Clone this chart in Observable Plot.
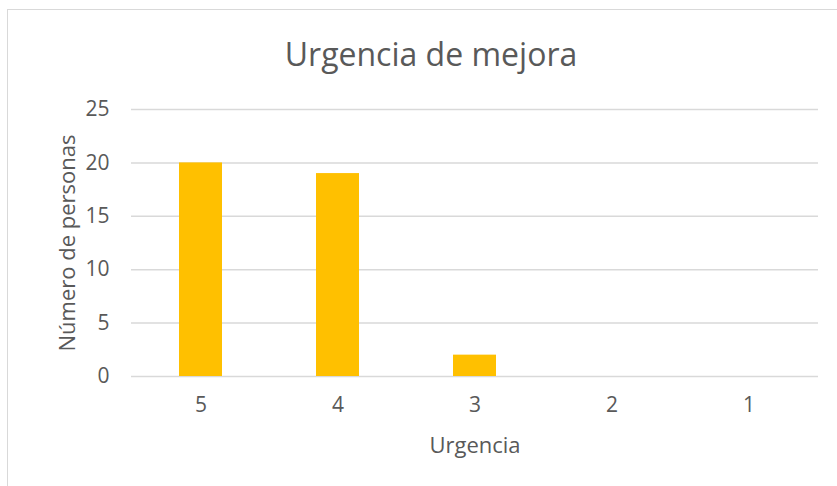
<!DOCTYPE html>
<html>
<head>
<meta charset="utf-8">
<script src="https://cdn.jsdelivr.net/npm/d3@7"></script>
<script src="https://cdn.jsdelivr.net/npm/@observablehq/plot@0.6"></script>
<style>
  html, body { margin: 0; padding: 0; background: #fff; }
  #wrap { position: relative; width: 837px; height: 486px; overflow: hidden; font-family: "Open Sans", sans-serif; }
  #frame { position: absolute; left: 7px; top: 9px; width: 835px; height: 490px; border: 1px solid #d9d9d9; box-sizing: border-box; }
  #title { position: absolute; left: 0; top: 31px; width: 862px; text-align: center; font-size: 32px; color: #595959; line-height: 46px; }
  #chart { position: absolute; left: 0; top: 0; }
</style>
</head>
<body>
<div id="wrap">
  <div id="frame"></div>
  <div id="title">Urgencia de mejora</div>
  <div id="chart"></div>
</div>
<script>
const categories = ["5", "4", "3", "2", "1"];
const personas = [20, 19, 2, 0, 0];
const yTicks = [0, 5, 10, 15, 20, 25];

const data = categories.map((c, i) => ({urgencia: c, personas: personas[i]}));

const chart = Plot.plot({
  width: 837,
  height: 486,
  marginTop: 109,
  marginBottom: 110,
  marginLeft: 131,
  marginRight: 19,
  style: {fontFamily: "'Open Sans', sans-serif", fontSize: "21px", color: "#595959", background: "transparent"},
  x: {domain: categories, paddingInner: 0.687, paddingOuter: 0.3435},
  y: {domain: [0, 25]},
  marks: [
    Plot.ruleY(yTicks, {stroke: "#d9d9d9", strokeWidth: 1.5}),
    Plot.barY(data, {x: "urgencia", y: "personas", fill: "#FFC000"}),
    Plot.axisY(yTicks, {tickSize: 0, tickPadding: 22, fontSize: 21, fill: "#595959", label: null}),
    Plot.axisY({tickSize: 0, ticks: [], label: "Número de personas", labelAnchor: "center", labelArrow: "none", labelOffset: 72, fontSize: 22, fill: "#595959"}),
    Plot.axisX({tickSize: 0, tickPadding: 21, fontSize: 21, fill: "#595959", label: null}),
    Plot.axisX({tickSize: 0, ticks: [], label: "Urgencia", labelAnchor: "center", labelOffset: 76, labelArrow: "none", fontSize: 22, fill: "#595959"})
  ]
});
document.getElementById("chart").appendChild(chart);
</script>
</body>
</html>
